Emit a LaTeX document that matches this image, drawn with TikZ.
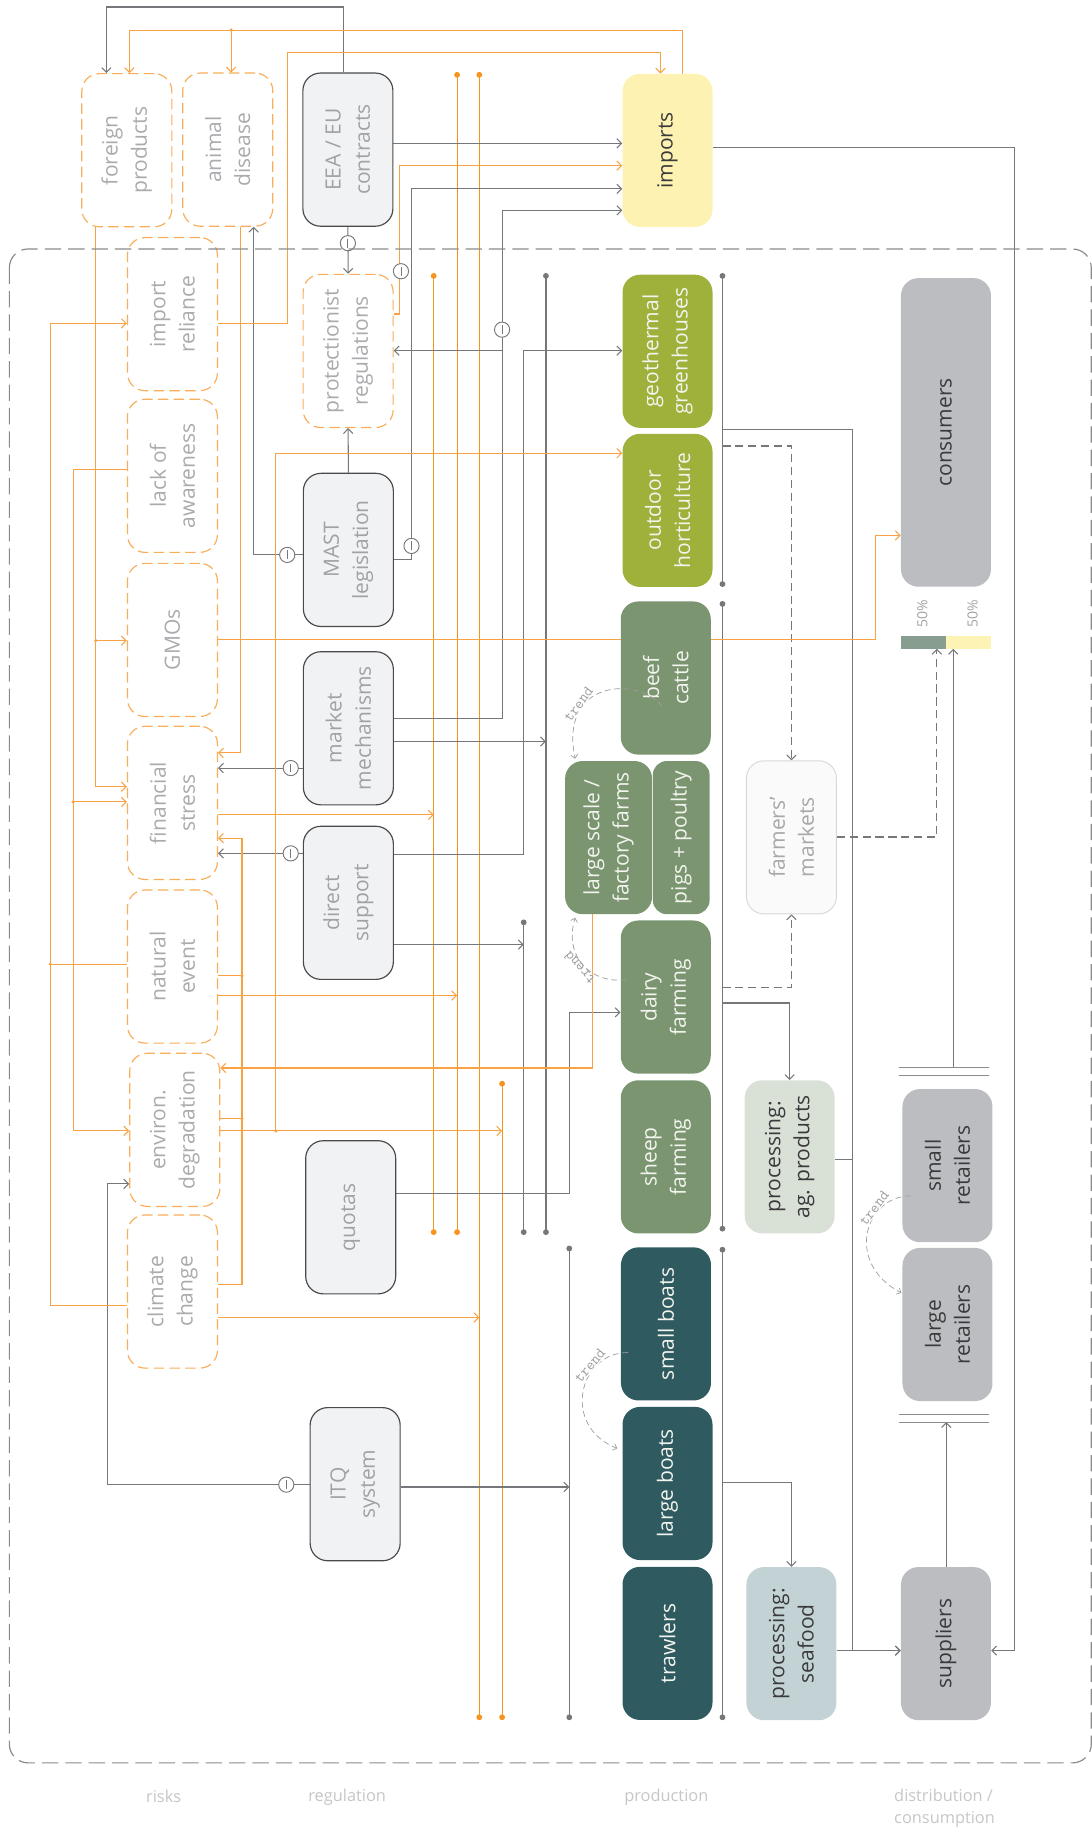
\documentclass[tikz,border=0pt]{standalone}
\usepackage{fontspec}
\setmainfont{Open Sans}
\usetikzlibrary{arrows.meta}
\pgfdeclarelayer{bg}
\pgfsetlayers{bg,main}
\definecolor{lineG}{HTML}{76777A}
\definecolor{orL}{HTML}{F8A243}
\definecolor{orB}{HTML}{F7941D}
\definecolor{orBox}{HTML}{F9AE5B}
\definecolor{riskT}{HTML}{A9ABAE}
\definecolor{regT}{HTML}{A0A2A5}
\definecolor{regF}{HTML}{F1F2F4}
\definecolor{regD}{HTML}{4A4A4C}
\definecolor{impF}{HTML}{FDF2B1}
\definecolor{darkT}{HTML}{3A3A3C}
\definecolor{geoF}{HTML}{9FB13B}
\definecolor{livF}{HTML}{7B9571}
\definecolor{fishF}{HTML}{2E5A60}
\definecolor{prodT}{HTML}{F2F4EE}
\definecolor{fmF}{HTML}{FAFAFA}
\definecolor{fmD}{HTML}{D8D8D8}
\definecolor{fmT}{HTML}{A8A8A8}
\definecolor{paF}{HTML}{D9E0D6}
\definecolor{psF}{HTML}{C3D3D5}
\definecolor{disF}{HTML}{BCBDC0}
\definecolor{barA}{HTML}{869D90}
\definecolor{barB}{HTML}{FDF3B4}
\definecolor{capT}{HTML}{C6C6C6}
\definecolor{trendG}{HTML}{9C9C9C}
\definecolor{frameG}{HTML}{8A8A8A}
\newcommand\boxfont{\fontsize{18}{25}\selectfont}
\begin{document}
\begin{tikzpicture}[x=1pt,y=-1pt,
  gl/.style={draw=lineG,line width=0.9pt},
  ol/.style={draw=orL,line width=0.9pt},
  obus/.style={draw=orB,line width=1pt},
  gbus/.style={draw=lineG,line width=1.1pt},
  arr/.style={-{Straight Barb[length=4pt,width=8pt]}},
  dsh/.style={dash pattern=on 7pt off 4pt},
  bx/.style={rounded corners=15pt,minimum width=77pt,minimum height=131pt,inner sep=0pt},
  risk/.style={bx,draw=orBox,fill=white,line width=1pt,dash pattern=on 9pt off 4.5pt},
  reg/.style={bx,draw=regD,fill=regF,line width=1pt},
  prodbox/.style={bx,fill=#1},
  lbl/.style={rotate=90,align=center,font=\boxfont,inner sep=0pt},
  inh/.style={circle,draw=lineG,fill=white,line width=0.8pt,minimum size=13pt,inner sep=0pt,
     path picture={\draw[lineG,line width=0.8pt] ([yshift=-3.8pt]path picture bounding box.center) -- ([yshift=3.8pt]path picture bounding box.center);}},
  gdot/.style={circle,fill=lineG,inner sep=0pt,minimum size=5pt},
  odot/.style={circle,fill=orB,inner sep=0pt,minimum size=5pt},
  jdot/.style={circle,fill=orL,inner sep=0pt,minimum size=3pt},
  trendline/.style={draw=trendG,line width=0.6pt,dash pattern=on 5pt off 3pt,-{Straight Barb[length=3pt,width=6pt]}},
  trendtxt/.style={font=\ttfamily\fontsize{13}{13}\selectfont,text=trendG,inner sep=0.5pt,anchor=base},
  captxt/.style={font=\fontsize{14}{19}\selectfont,text=capT,align=left}
]
\useasboundingbox (0,0) rectangle (934,1568);

% ---------- boxes ----------
\node[risk] (fp) at (108.5,128.5) {};
\node[lbl,text=riskT] (fpT) at (fp) {foreign\\products};
\node[risk] (ad) at (194.8,128) {};
\node[lbl,text=riskT] (adT) at (ad) {animal\\disease};
\node[reg] (eea) at (297.6,128) {};
\node[lbl,text=regT] (eeaT) at (eea) {EEA / EU\\contracts};
\node[prodbox=impF] (imp) at (571,128.6) {};
\node[lbl,text=darkT] (impT) at (imp) {imports};

\node[risk] (ir) at (147.5,268.7) {};
\node[lbl,text=riskT] (irT) at (ir) {import\\reliance};
\node[risk] (la) at (147.5,407) {};
\node[lbl,text=riskT] (laT) at (la) {lack of\\awareness};
\node[risk] (gm) at (147.5,547.4) {};
\node[lbl,text=riskT] (gmT) at (gm) {GMOs};
\node[risk] (fs) at (147.5,686.8) {};
\node[lbl,text=riskT] (fsT) at (fs) {financial\\stress};
\node[risk] (ne) at (147.5,826.8) {};
\node[lbl,text=riskT] (neT) at (ne) {natural\\event};
\node[risk] (ed) at (149.5,966.5) {};
\node[lbl,text=riskT] (edT) at (ed) {environ.\\degradation};
\node[risk] (cc) at (147.5,1104.8) {};
\node[lbl,text=riskT] (ccT) at (cc) {climate\\change};

\node[risk] (pr) at (297.8,300.2) {};
\node[lbl,text=riskT] (prT) at (pr) {protectionist\\regulations};
\node[reg] (mast) at (298,470.4) {};
\node[lbl,text=regT] (mastT) at (mast) {MAST\\legislation};
\node[reg] (mm) at (298,623) {};
\node[lbl,text=regT] (mmT) at (mm) {market\\mechanisms};
\node[reg] (ds) at (298,772.3) {};
\node[lbl,text=regT] (dsT) at (ds) {direct\\support};
\node[reg] (qu) at (300,1041.3) {};
\node[lbl,text=regT] (quT) at (qu) {quotas};
\node[reg] (itq) at (303.8,1269.6) {};
\node[lbl,text=regT] (itqT) at (itq) {ITQ\\system};

\node[prodbox=geoF] (geo) at (571,300.5) {};
\node[lbl,text=prodT] (geoT) at (geo) {geothermal\\greenhouses};
\node[prodbox=geoF] (oh) at (571,436.6) {};
\node[lbl,text=prodT] (ohT) at (oh) {outdoor\\horticulture};
\node[prodbox=livF] (bc) at (569.5,580) {};
\node[lbl,text=prodT] (bcT) at (bc) {beef\\cattle};
\node[prodbox=livF,minimum width=74.4pt] (ff) at (520.6,716.5) {};
\node[lbl,text=prodT] (ffT) at (ff) {large scale /\\factory farms};
\node[prodbox=livF,minimum width=48.6pt,rounded corners=12pt] (pp) at (582.7,716.5) {};
\node[lbl,text=prodT] (ppT) at (pp) {pigs + poultry};
\node[prodbox=livF] (df) at (569.5,852.9) {};
\node[lbl,text=prodT] (dfT) at (df) {dairy\\farming};
\node[prodbox=livF] (sf) at (569.5,989.6) {};
\node[lbl,text=prodT] (sfT) at (sf) {sheep\\farming};
\node[prodbox=fishF] (sb) at (569.7,1132.5) {};
\node[lbl,text=prodT] (sbT) at (sb) {small boats};
\node[prodbox=fishF] (lb) at (571,1269) {};
\node[lbl,text=prodT] (lbT) at (lb) {large boats};
\node[prodbox=fishF] (tr) at (571,1405.8) {};
\node[lbl,text=prodT] (trT) at (tr) {trawlers};

\node[bx,fill=fmF,draw=fmD,line width=0.8pt] (fm) at (677,716.3) {};
\node[lbl,text=fmT] (fmT) at (fm) {farmers’\\markets};
\node[prodbox=paF] (pa) at (675.5,989.6) {};
\node[lbl,text=darkT] (paT) at (pa) {processing:\\ag. products};
\node[prodbox=psF] (ps) at (677,1406) {};
\node[lbl,text=darkT] (psT) at (ps) {processing:\\seafood};

\node[prodbox=disF,minimum height=264pt] (con) at (809.2,369.9) {};
\node[lbl,text=darkT] (conT) at (con) {consumers};
\node[prodbox=disF] (sr) at (810.5,997.1) {};
\node[lbl,text=darkT] (srT) at (sr) {small\\retailers};
\node[prodbox=disF] (lr) at (810.5,1133) {};
\node[lbl,text=darkT] (lrT) at (lr) {large\\retailers};
\node[prodbox=disF] (sup) at (809.2,1406) {};
\node[lbl,text=darkT] (supT) at (sup) {suppliers};

% bar and percentages
\node[fill=barA,minimum width=38.7pt,minimum height=11pt,inner sep=0pt,outer sep=0pt] (barL) at (790.15,549.5) {};
\node[fill=barB,minimum width=38.5pt,minimum height=11pt,inner sep=0pt,outer sep=0pt] (barR) at (828.75,549.5) {};
\node[rotate=90,font=\fontsize{12}{12}\selectfont,text=regT] (pc1) at (789,525) {50\%};
\node[rotate=90,font=\fontsize{12}{12}\selectfont,text=regT] (pc2) at (832,525) {50\%};

% bus end dots
\node[odot] (ob1t) at (371,236) {};   \node[odot] (ob1b) at (371,1054) {};
\node[odot] (ob2t) at (391,64) {};    \node[odot] (ob2b) at (391,1054) {};
\node[odot] (ob3t) at (410,64) {};    \node[odot] (ob3b) at (410,1469) {};
\node[odot] (ob4t) at (429.5,927) {}; \node[odot] (ob4b) at (429.5,1469) {};
\node[gdot] (gb1t) at (448,789) {};   \node[gdot] (gb1b) at (448,1054) {};
\node[gdot] (gb2t) at (467,236) {};   \node[gdot] (gb2b) at (467,1054) {};
\node[gdot] (gb3t) at (487,1068) {};  \node[gdot] (gb3b) at (487,1469) {};
\node[gdot] (pb1t) at (618,236) {};   \node[gdot] (pb1b) at (618,499.6) {};
\node[gdot] (pb2t) at (618,516.6) {}; \node[gdot] (pb2b) at (618,1051) {};
\node[gdot] (pb3t) at (618,1069) {};  \node[gdot] (pb3b) at (618,1469) {};

% ---------- connectors (behind boxes) ----------
\begin{pgfonlayer}{bg}
% buses
\draw[obus] (ob1t.center) -- (ob1b.center);
\draw[obus] (ob2t.center) -- (ob2b.center);
\draw[obus] (ob3t.center) -- (ob3b.center);
\draw[obus] (ob4t.center) -- (ob4b.center);
\draw[gbus] (gb1t.center) -- (gb1b.center);
\draw[gbus] (gb2t.center) -- (gb2b.center);
\draw[gbus] (gb3t.center) -- (gb3b.center);
\draw[gbus] (pb1t.center) -- (pb1b.center);
\draw[gbus] (pb2t.center) -- (pb2b.center);
\draw[gbus] (pb3t.center) -- (pb3b.center);

% gray regulation links
\draw[gl,arr] (eea.north -| 294,0) -- (294,6) -- (91,6) -- (fp.north -| 91,0);
\draw[gl,arr] (eea.east |- 0,122.6) -- (imp.west |- 0,122.6);
\draw[gl,arr] (eea.south) -- (pr.north);
\draw[gl,arr] (mast.east |- 0,479) -- (352,479) -- (352,161.6) -- (imp.west |- 0,161.6);
\draw[gl,arr] (mast.north) -- (pr.south);
\draw[gl,arr] (mast.west |- 0,474.7) -- (217,474.7) -- (ad.south -| 217,0);
\draw[gl,arr] (mm.east |- 0,614.7) -- (429.5,614.7) -- (429.5,180) -- (imp.west |- 0,180);
\draw[gl,arr] (429.5,300) -- (pr.east |- 0,300);
\draw[gl,arr] (mm.east |- 0,634.3) -- (467,634.3);
\draw[gl,arr] (mm.west |- 0,657) -- (fs.east |- 0,657);
\draw[gl,arr] (ds.east |- 0,730.6) -- (448,730.6) -- (448,300) -- (geo.west |- 0,300);
\draw[gl,arr] (ds.east |- 0,808) -- (448,808);
\draw[gl,arr] (ds.west |- 0,730) -- (fs.east |- 0,730);
\draw[gl,arr] (qu.east |- 0,1021) -- (487,1021) -- (487,866) -- (df.west |- 0,866);
\draw[gl,arr] (itq.west |- 0,1270) -- (91.7,1270) -- (91.7,1012.7) -- (ed.west |- 0,1012.7);
\draw[gl,arr] (itq.east |- 0,1272) -- (487,1272);

% production outputs
\draw[gl,arr] (618,367.8) -- (729,367.8) -- (729,1412) -- (sup.west |- 0,1412);
\draw[gl,arr,dsh] (618,381.5) -- (677,381.5) -- (fm.north);
\draw[gl,arr,dsh] (618,844.7) -- (677,844.7) -- (fm.south);
\draw[gl,arr] (618,858) -- (675.5,858) -- (pa.north);
\draw[gl] (pa.east |- 0,991.5) -- (729,991.5);
\draw[gl,arr] (618,1268) -- (677,1268) -- (ps.north);
\draw[gl,arr] (ps.east |- 0,1412) -- (sup.west |- 0,1412);
\draw[gl,arr,dsh] (fm.east |- 0,716) -- (801.4,716) -- (barL.south -| 801.4,0);
\draw[gl,arr] (815.4,913.2) -- (barR.south -| 815.4,0);
\draw[gl,arr] (sup.north -| 809.5,0) -- (809.5,1216.5);
\draw[gl,arr] (imp.east |- 0,126.3) -- (868,126.3) -- (868,1412) -- (sup.east |- 0,1412);
\draw[draw=lineG!85,line width=0.9pt] (769,913.2) -- (846,913.2) (769,920.3) -- (846,920.3)
   (769,1209.6) -- (846,1209.6) (769,1216.5) -- (846,1216.5);

% orange risk links
\draw[ol,arr] (imp.north -| 584,0) -- (584,25.7) -- (110.8,25.7) -- (fp.north -| 110.8,0);
\draw[ol,arr] (197.7,25.7) -- (ad.north -| 197.7,0);
\draw[ol,arr] (ir.east |- 0,276.6) -- (246,276.6) -- (246,44.7) -- (565,44.7) -- (imp.north -| 565,0);
\draw[ol,arr] (pr.east |- 0,268.6) -- (342,268.6) -- (342,141.7) -- (imp.west |- 0,141.7);
\draw[ol,arr] (fp.south -| 82,0) -- (82,673) -- (fs.west |- 0,673);
\draw[ol,arr] (82,548) -- (gm.west |- 0,548);
\draw[ol,arr] (ad.south -| 206,0) -- (206,644) -- (fs.east |- 0,644);
\draw[ol,arr] (la.west |- 0,401.4) -- (62.6,401.4) -- (62.6,967.4) -- (ed.west |- 0,967.4);
\draw[ol,arr] (62.6,686) -- (fs.west |- 0,686);
\draw[ol,arr] (cc.west |- 0,1117) -- (43,1117) -- (43,276.6) -- (ir.west |- 0,276.6);
\draw[ol] (ne.west |- 0,824.8) -- (43,824.8);
\draw[ol,arr] (cc.east |- 0,1099) -- (207,1099) -- (207,717) -- (fs.east |- 0,717);
\draw[ol] (ne.east |- 0,834.8) -- (207,834.8);
\draw[ol] (ed.east |- 0,957) -- (207,957);
\draw[ol,arr] (fs.east |- 0,697) -- (371,697);
\draw[ol,arr] (ne.east |- 0,851.6) -- (391,851.6);
\draw[ol,arr] (ed.east |- 0,967.4) -- (429.5,967.4);
\draw[ol,arr] (236,967.4) -- (236,387.7) -- (oh.west |- 0,387.7);
\draw[ol,arr] (cc.east |- 0,1127) -- (410,1127);
\draw[ol,arr] (gm.east |- 0,547) -- (749,547) -- (749,458) -- (con.west |- 0,458);
\draw[ol,arr] (ff.south -| 506.6,0) -- (506.6,913.6) -- (ed.east |- 0,913.6);
\end{pgfonlayer}

% junction dots
\node[jdot] (j1) at (82,548) {};
\node[jdot] (j2) at (62.6,686) {};
\node[jdot] (j3) at (43,824.8) {};
\node[jdot] (j4) at (207,834.8) {};
\node[jdot] (j5) at (207,957) {};
\node[jdot] (j6) at (236,967.4) {};
\node[jdot] (j7) at (197.7,25.7) {};

% inhibition marks
\node[inh] (c1) at (297.6,208) {};
\node[inh] (c2) at (343,232) {};
\node[inh] (c3) at (352,467) {};
\node[inh] (c4) at (245.7,474.7) {};
\node[inh] (c5) at (429.5,282) {};
\node[inh] (c6) at (248.7,657) {};
\node[inh] (c7) at (248.7,730) {};
\node[inh] (c8) at (244.9,1270) {};

% trends
\draw[trendline] (566,604) .. controls (545,578) and (478,582) .. (492,649);
\node[trendtxt,rotate=54,fill=white] (t1) at (498,604.8) {trend};
\draw[trendline] (536,838) .. controls (505,842) and (482,818) .. (492,785);
\node[trendtxt,rotate=131] (t2) at (498.6,825.4) {trend};
\draw[trendline] (779,1023) .. controls (740,1023) and (722,1080) .. (771,1106);
\node[trendtxt,rotate=53,fill=white] (t3) at (750.8,1036) {trend};
\draw[trendline] (537,1157) .. controls (495,1157) and (480,1220) .. (528,1239);
\node[trendtxt,rotate=50,fill=white] (t4) at (507.5,1171) {trend};

% frame
\draw[draw=frameG,line width=1pt,dash pattern=on 14pt off 6pt,rounded corners=16pt] (8,213) rectangle (933.5,1508);

% captions
\node[captxt] (k1) at (140,1537) {risks};
\node[captxt] (k2) at (297,1537) {regulation};
\node[captxt] (k3) at (570,1537) {production};
\node[captxt] (k4) at (808,1547) {distribution /\\consumption};
\end{tikzpicture}
\end{document}
